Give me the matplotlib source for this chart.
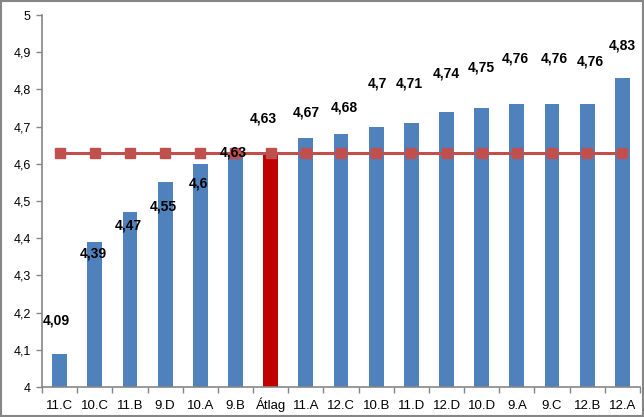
import numpy as np
import matplotlib
matplotlib.use("Agg")
import matplotlib.pyplot as plt
from matplotlib.ticker import FuncFormatter, FixedLocator
from matplotlib.patches import Rectangle

# data
classes = ["11.C", "10.C", "11.B", "9.D", "10.A", "9.B", "Átlag", "11.A", "12.C",
           "10.B", "11.D", "12.D", "10.D", "9.A", "9.C", "12.B", "12.A"]
scores = [4.09, 4.39, 4.47, 4.55, 4.60, 4.63, 4.63, 4.67, 4.68,
          4.70, 4.71, 4.74, 4.75, 4.76, 4.76, 4.76, 4.83]
average = 4.63

# label placement (hand-dragged in the original), data units relative to bar top
label_dy = [0.09, -0.03, -0.035, -0.066, -0.054, 0.0, 0.093, 0.069, 0.07,
            0.117, 0.107, 0.104, 0.11, 0.124, 0.124, 0.116, 0.087]
label_dx = [-0.1, -0.05, -0.05, -0.05, -0.05, -0.05, -0.2, 0.0, 0.1,
            0.05, -0.05, 0.0, 0.0, -0.05, 0.05, 0.1, 0.0]

_BLUE = "#4F81BD"
_RED_BAR = "#C00000"
_LINE = "#C0504D"
_AXIS = "#868686"

plt.rcParams["font.family"] = ["Liberation Sans", "DejaVu Sans"]

fig = plt.figure(figsize=(6.44, 4.17), dpi=100)
ax = fig.add_axes([42 / 644, 30 / 417, 598 / 644, 372 / 417])

x = np.arange(len(classes))
colors = [_RED_BAR if c == "Átlag" else _BLUE for c in classes]
ax.bar(x, scores, width=0.42, color=colors, zorder=2)
ax.plot(x, np.full(len(classes), average), color=_LINE, lw=2.2,
        marker="s", ms=6.5, mfc=_LINE, mec=_LINE, zorder=3)

for xi, v, dx, dy in zip(x, scores, label_dx, label_dy):
    txt = f"{v:g}".replace(".", ",")
    ax.text(xi + dx, v + dy, txt, ha="center", va="center", fontsize=10,
            fontweight="bold", color="black", zorder=4)

ax.set_xlim(-0.5, len(classes) - 0.5)
ax.set_ylim(4, 5)
ax.set_yticks(np.arange(4, 5.01, 0.1))
ax.yaxis.set_major_formatter(FuncFormatter(lambda v, _: f"{round(v, 1):g}".replace(".", ",")))
ax.set_xticks(x)
ax.set_xticklabels(classes)
for lbl in ax.get_xticklabels():
    lbl.set_verticalalignment("baseline")
ax.xaxis.set_minor_locator(FixedLocator(np.arange(-0.5, len(classes), 1.0)))
ax.tick_params(axis="x", which="major", length=0, pad=15.5, labelsize=9.5)
ax.tick_params(axis="x", which="minor", length=4, color=_AXIS, width=1)
ax.tick_params(axis="y", length=4, color=_AXIS, width=1, labelsize=9, pad=4)

for s in ("top", "right"):
    ax.spines[s].set_visible(False)
for s in ("left", "bottom"):
    ax.spines[s].set_color(_AXIS)
    ax.spines[s].set_linewidth(1.2)

fig.patches.append(Rectangle((0.001, 0.002), 0.997, 0.996, transform=fig.transFigure,
                             fill=False, edgecolor=_AXIS, lw=1.5))

fig.savefig("out.png", dpi=100)
